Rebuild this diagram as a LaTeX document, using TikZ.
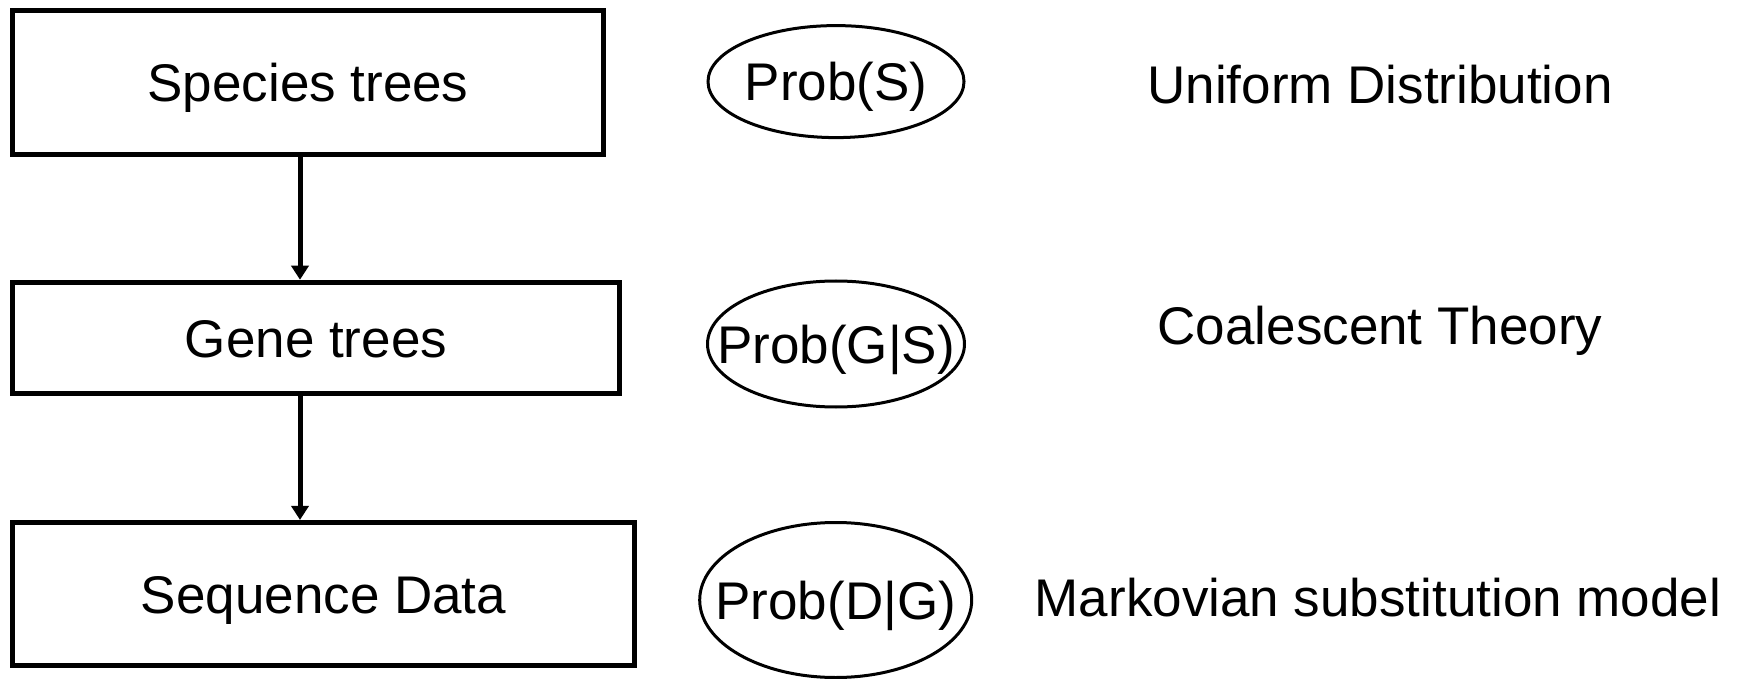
\documentclass[tikz,border=0pt]{standalone}
\usepackage{fontspec}
\setmainfont{Liberation Sans}
\usetikzlibrary{shapes.geometric,arrows.meta}
\begin{document}
\begin{tikzpicture}[x=1pt,y=-1pt,
  every node/.style={font=\fontsize{53}{60}\selectfont, text height=38pt, text depth=0pt, inner sep=0pt},
  stage/.style={draw, line width=5.5pt, rectangle},
  prob/.style={draw, line width=3pt, ellipse, inner xsep=-40pt},
  flow/.style={line width=5pt, -{Triangle[width=17pt,length=14pt]}}]
\useasboundingbox (0,0) rectangle (1741,679);

% model stages
\node[stage, minimum width=591pt, minimum height=144pt] (species) at (308,82.3) {Species trees};
\node[stage, minimum width=607pt, minimum height=111pt] (gene) at (316,338) {Gene trees};
\node[stage, minimum width=622pt, minimum height=143pt] (seq) at (323.6,594.2) {Sequence Data};

% probability terms
\node[prob, minimum width=256pt, minimum height=112pt] (ps) at (836,81.6) {Prob(S)};
\node[prob, minimum width=257pt, minimum height=126pt] (pgs) at (836,344) {Prob(G|S)};
\node[prob, minimum width=272pt, minimum height=155pt] (pdg) at (835.7,600) {Prob(D|G)};

% models
\node (unif) at (1380,85) {Uniform Distribution};
\node (coal) at (1380,325) {Coalescent Theory};
\node (markov) at (1378,597) {Markovian substitution model};

% connectors
\coordinate (ax) at (300,0);
\draw[flow] (species.south -| ax) -- (gene.north -| ax);
\draw[flow] (gene.south -| ax) -- (seq.north -| ax);
\end{tikzpicture}
\end{document}
